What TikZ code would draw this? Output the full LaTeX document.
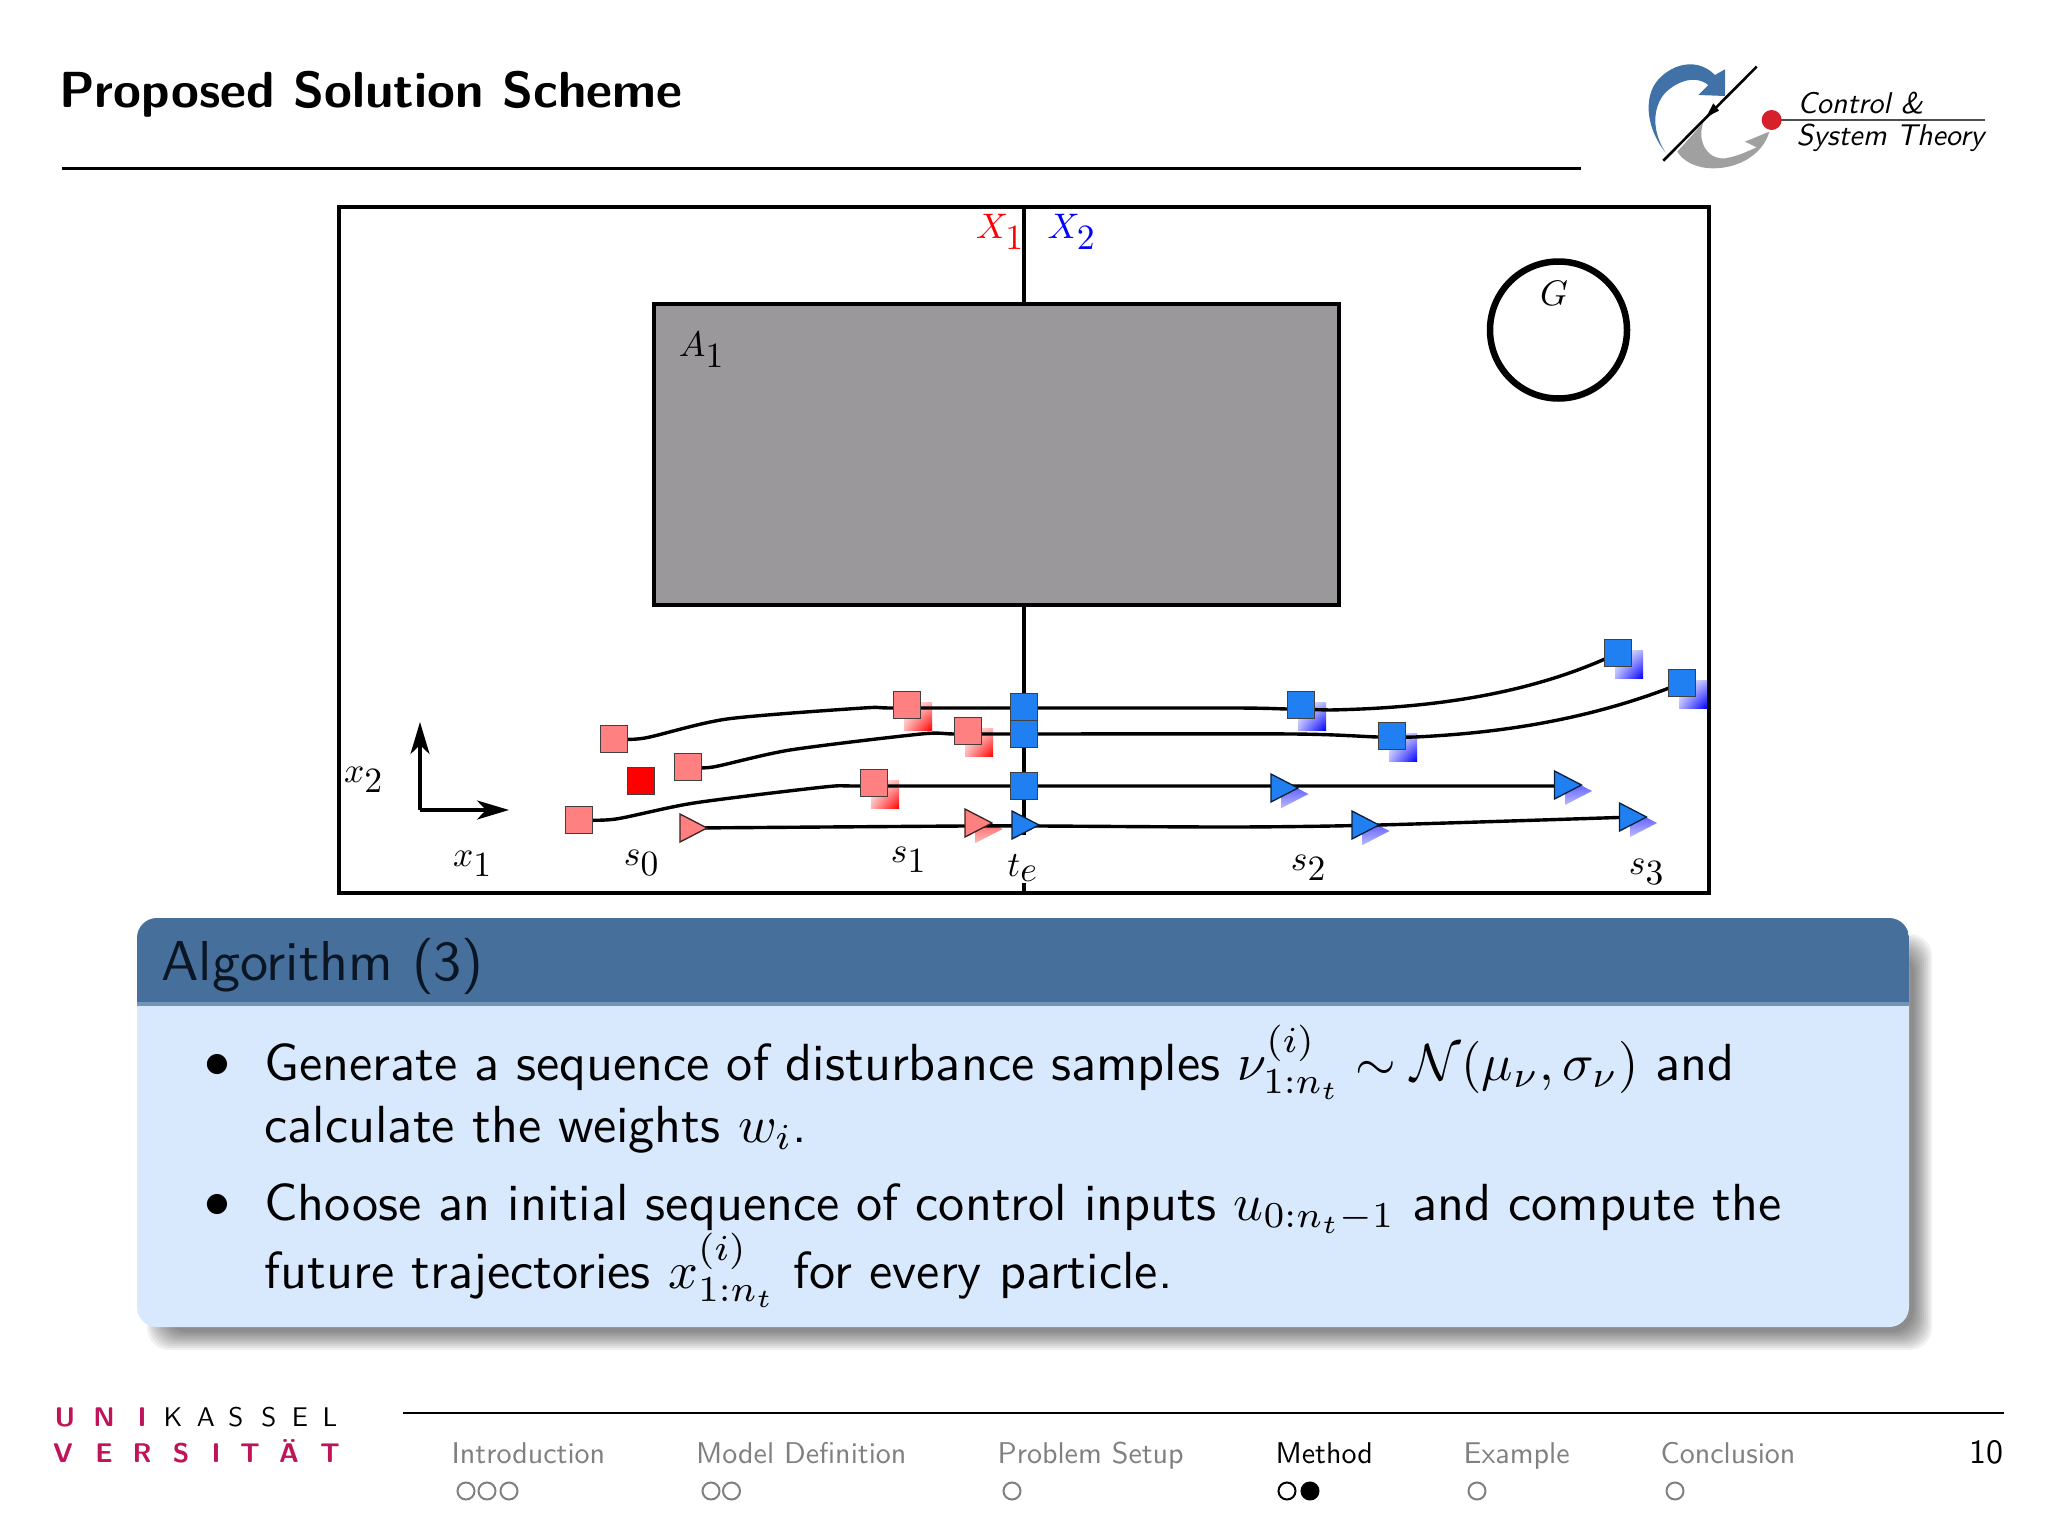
\documentclass[tikz,border=0pt]{standalone}
\usepackage{amsmath,amssymb}
\usetikzlibrary{arrows.meta,shadings}
\renewcommand{\familydefault}{\sfdefault}
\definecolor{rsqc}{HTML}{FF8080}
\definecolor{bsqc}{HTML}{2080F2}
\definecolor{hdr}{HTML}{466F9C}
\definecolor{bodyc}{HTML}{D9E9FD}
\definecolor{greyblk}{HTML}{9A989B}
\definecolor{uk}{HTML}{C0145A}
\definecolor{navg}{HTML}{808080}
\newcommand{\rsq}[1]{\shade[upper left=white,lower right=red,upper right=red!30,lower left=red!30] ([shift={(-3,-3)}]#1) rectangle ([shift={(25,25)}]#1);}
\newcommand{\bsq}[1]{\shade[upper left=white,lower right=blue,upper right=blue!30,lower left=blue!30] ([shift={(-3,-3)}]#1) rectangle ([shift={(25,25)}]#1);}
\newcommand{\trishadow}[2]{\begin{scope}[shift={(#1)}]\clip (-3,-8)--(24,6)--(-3,20)--cycle;\shade[bottom color=#2!25,top color=#2!75] (-4,-9) rectangle (25,21);\end{scope}}
\newcommand{\tri}[2]{\path[draw=black!75!#2,line width=1.3pt,fill=#2,shift={(#1)}] (-13.5,-14)--(13.5,0)--(-13.5,14)--cycle;}
\tikzset{
  lab/.style={inner sep=0pt,scale=3.55},
  sq/.style={draw=black!75,line width=1.3pt,minimum size=27.5pt,inner sep=0pt},
  rs/.style={sq,fill=rsqc},
  bs/.style={sq,fill=bsqc},
  traj/.style={line width=3.4pt,line join=round},
  navt/.style={anchor=base west,inner sep=0pt,scale=3,text=navg},
  navc/.style={circle,draw=navg,line width=2pt,minimum size=17pt,inner sep=0pt},
  bodyt/.style={anchor=base west,inner sep=0pt,scale=5.22},
}
\begin{document}
\begin{tikzpicture}[x=1pt,y=-1pt]
\useasboundingbox[fill=white] (0,0) rectangle (2048,1536);
% header
\node[anchor=base west,inner sep=0pt,scale=5.07,font=\bfseries] (title) at (58,108) {Proposed Solution Scheme};
\draw[line width=2.6pt] (62,168.5) -- (1581,168.5);
% logo
\begin{scope}[shift={(1600,40)},x=0.3333pt,y=-0.3333pt]
\fill[color={rgb,255:red,64;green,114;blue,168}] (197,338) .. controls (150,280) and (130,200) .. (160,140) .. controls (190,85) and (280,40) .. (345,105) -- (375,88) -- (375,168) -- (295,165) -- (325,135) .. controls (280,100) and (220,130) .. (190,165) .. controls (150,220) and (165,290) .. (197,338) -- cycle;
\fill[color={rgb,255:red,160;green,160;blue,160}] (232,335) -- (310,248) .. controls (290,300) and (320,360) .. (375,355) .. controls (410,350) and (440,335) .. (470,322) -- (435,305) -- (508,275) .. controls (490,340) and (420,385) .. (340,385) .. controls (290,385) and (250,365) .. (232,335) -- cycle;
\draw[line width=2.6pt] (190,362) -- (470,80);
\fill (318,232) -- (357,212) -- (340,190) -- cycle;
\draw[line width=1.6pt,black!70] (515,240) -- (1155,240);
\fill[color={rgb,255:red,214;green,32;blue,44}] (515,240) circle (30);
\end{scope}
\node[anchor=base west,inner sep=0pt,scale=3,font=\itshape] (ctrl) at (1797,114) {Control \&};
\node[anchor=base west,inner sep=0pt,scale=3,font=\itshape] (sysm) at (1796,146) {System Theory};
% figure frame
\draw[line width=4pt] (1024,207) -- (1024,835);
\draw[line width=4pt] (1024,883) -- (1024,892);
\draw[line width=4pt] (339,207) rectangle (1709,892.5);
\draw[line width=4pt,fill=greyblk] (654,304) rectangle (1339,605);
\draw[line width=6.5pt] (1558.5,330) circle (68.5);
\node[lab] (G) at (1554,293) {$G$};
\node[lab] (A1) at (702,350) {$A_{\textstyle 1}$};
\node[lab,text=red] (X1) at (1000.5,232) {$X_{\textstyle 1}$};
\node[lab,text=blue] (X2) at (1072,232) {$X_{\textstyle 2}$};
% axes
\coordinate (org) at (420,810);
\coordinate (xend) at (509,810);
\coordinate (yend) at (420,722);
\draw[line width=3.5pt,-{Stealth[length=32pt,width=19pt,inset=9pt]}] (org) -- (xend);
\draw[line width=3.5pt,-{Stealth[length=32pt,width=19pt,inset=9pt]}] (org) -- (yend);
\node[lab] (lx2) at (364,780) {$x_{\textstyle 2}$};
\node[lab] (lx1) at (473,864) {$x_{\textstyle 1}$};
\node[lab] (ls0) at (642,863) {$s_{\textstyle 0}$};
\node[lab] (ls1) at (909,860) {$s_{\textstyle 1}$};
\node[lab] (lte) at (1023,868) {$t_{\textstyle e}$};
\node[lab] (ls2) at (1309,868) {$s_{\textstyle 2}$};
\node[lab] (ls3) at (1647,872) {$s_{\textstyle 3}$};
% marker positions
\coordinate (a0) at (614,739); \coordinate (a1) at (907,705); \coordinate (a2) at (1024,707); \coordinate (a3) at (1301,705); \coordinate (a4) at (1618,653);
\coordinate (b0) at (688,767); \coordinate (b1) at (968,731); \coordinate (b2) at (1024,734); \coordinate (b3) at (1392,736); \coordinate (b4) at (1682,683);
\coordinate (c0) at (579,820); \coordinate (c1) at (874,783); \coordinate (c2) at (1024,786); \coordinate (c3) at (1284.5,788); \coordinate (c4) at (1568,785);
\coordinate (d0) at (693.5,828); \coordinate (d1) at (978.5,823); \coordinate (d2) at (1025.5,825); \coordinate (d3) at (1365.5,825); \coordinate (d4) at (1633,817);
% shadows
\rsq{a1}\rsq{b1}\rsq{c1}
\bsq{a3}\bsq{b3}\bsq{a4}\bsq{b4}
\trishadow{d1}{red}
\trishadow{c3}{blue}\trishadow{c4}{blue}\trishadow{d3}{blue}\trishadow{d4}{blue}
% trajectories
\draw[traj] plot[smooth,tension=0.45] coordinates {(a0) (645,738) (727,719) (863,708) (893,708) (1024,708) (1236,708) (1287,709) (1330,710)} .. controls (1430,708) and (1530,695) .. (a4);
\draw[traj] plot[smooth,tension=0.45] coordinates {(b0) (713,767) (790,750) (921,734) (955,734) (1024,734) (1293,734) (1378,737) (1415,737)} .. controls (1500,733) and (1590,720) .. (b4);
\draw[traj] plot[smooth,tension=0.45] coordinates {(c0) (616,819) (694,803) (824,787) (861,786) (1024,786) (1284,786) (1560,786)};
\draw[traj] plot[smooth,tension=0.45] coordinates {(d0) (965,826) (1039,826) (1236,827) (1379,825) (d4)};
% markers
\node[rs] (ma0) at (a0) {};
\node[rs] (mb0) at (b0) {};
\node[rs] (mc0) at (c0) {};
\node[sq,fill=red] (mr) at (641,781) {};
\node[rs] (ma1) at (a1) {};
\node[rs] (mb1) at (b1) {};
\node[rs] (mc1) at (c1) {};
\node[bs] (ma2) at (a2) {};
\node[bs] (mb2) at (b2) {};
\node[bs] (mc2) at (c2) {};
\node[bs] (ma3) at (a3) {};
\node[bs] (mb3) at (b3) {};
\node[bs] (ma4) at (a4) {};
\node[bs] (mb4) at (b4) {};
\tri{d0}{rsqc}\tri{d1}{rsqc}\tri{d2}{bsqc}\tri{c3}{bsqc}\tri{d3}{bsqc}\tri{c4}{bsqc}\tri{d4}{bsqc}
% block
\foreach \i in {0,...,9}{
  \fill[black,opacity=0.055,rounded corners=22pt] (147+2*\i,934+2*\i) rectangle (1932-2*\i,1350-2*\i);
}
\fill[bodyc,rounded corners=20pt] (137,918) rectangle (1909,1327);
\begin{scope}
\clip[rounded corners=20pt] (137,918) rectangle (1909,1327);
\fill[hdr] (137,918) rectangle (1909,1002);
\fill[hdr!70!bodyc] (137,1002) rectangle (1909,1006);
\end{scope}
\node[anchor=base west,inner sep=0pt,scale=5.62,text={rgb,255:red,10;green,22;blue,36}] (bt) at (160,980) {Algorithm (3)};
\node[inner sep=0pt,scale=5.19] (bu1) at (217,1066) {$\bullet$};
\node[inner sep=0pt,scale=5.19] (bu2) at (217,1206) {$\bullet$};
\node[bodyt] (l1) at (263.5,1080) {\hbox to 281.6pt{Generate a sequence of disturbance samples $\nu^{(i)}_{1:n_t}\sim\mathcal{N}(\mu_\nu,\sigma_\nu)$ and}};
\node[bodyt] (l2) at (263.5,1142) {calculate the weights $w_i$.};
\node[bodyt] (l3) at (263.5,1220) {\hbox to 290.6pt{Choose an initial sequence of control inputs $u_{0:n_t-1}$ and compute the}};
\node[bodyt] (l4) at (263.5,1288) {future trajectories $x^{(i)}_{1:n_t}$ for every particle.};
% footer
\draw[line width=2.6pt] (403,1413) -- (2004,1413);
\foreach \c/\x [count=\n] in {U/65,N/104,I/142}{
  \node[inner sep=0pt,anchor=base,scale=2.7,font=\bfseries,text=uk] (ua\n) at (\x,1426) {\c};
}
\foreach \c/\x [count=\n] in {K/173,A/206,S/236,S/269,E/300,L/330}{
  \node[inner sep=0pt,anchor=base,scale=2.7] (ub\n) at (\x,1426) {\c};
}
\foreach \c/\x [count=\n] in {V/63,E/104,R/142,S/181,I/216,T/250,Ä/289,T/330}{
  \node[inner sep=0pt,anchor=base,scale=2.7,font=\bfseries,text=uk] (uc\n) at (\x,1462) {\c};
}
\node[navt] (n1) at (451,1463) {Introduction};
\node[navt] (n2) at (695.5,1463) {Model Definition};
\node[navt] (n3) at (997,1463) {Problem Setup};
\node[navt,text=black] (n4) at (1275,1463) {Method};
\node[navt] (n5) at (1463,1463) {Example};
\node[navt] (n6) at (1660,1463) {Conclusion};
\node[anchor=base east,inner sep=0pt,scale=3.4] (pg) at (2004,1463) {10};
\foreach \x [count=\n] in {466,487,509,711,731.5,1012,1477,1675}{
  \node[navc] (nc\n) at (\x,1491) {};
}
\node[navc,draw=black] (nc9) at (1287,1491) {};
\node[navc,draw=black,fill=black] (nc10) at (1310,1491) {};
\end{tikzpicture}
\end{document}
